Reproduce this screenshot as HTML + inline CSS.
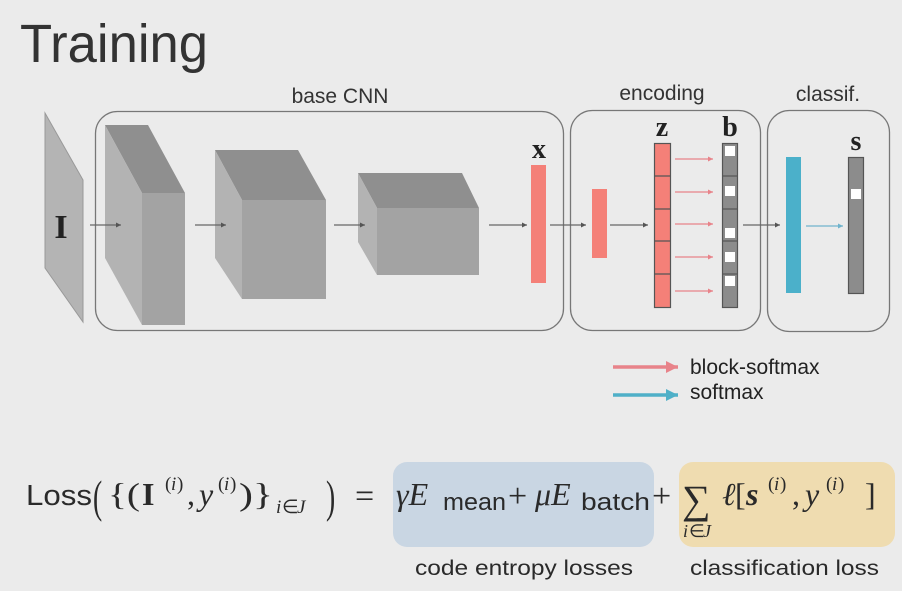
<!DOCTYPE html>
<html><head><meta charset="utf-8"><style>
html,body{margin:0;padding:0;background:#ebebeb;}
svg{display:block;}
</style></head><body>
<svg width="902" height="591" viewBox="0 0 902 591" xmlns="http://www.w3.org/2000/svg">
<defs>
<marker id="ag" markerWidth="6" markerHeight="6" refX="5" refY="3" orient="auto" markerUnits="userSpaceOnUse"><path d="M0,0.5 L5,3 L0,5.5Z" fill="#555"/></marker>
<marker id="ap" markerWidth="6" markerHeight="6" refX="5" refY="3" orient="auto" markerUnits="userSpaceOnUse"><path d="M0,0.5 L5,3 L0,5.5Z" fill="#e8838a"/></marker>
<marker id="ab" markerWidth="6" markerHeight="6" refX="5" refY="3" orient="auto" markerUnits="userSpaceOnUse"><path d="M0,0.5 L5,3 L0,5.5Z" fill="#6fb3cc"/></marker>
<marker id="lp" markerWidth="14" markerHeight="14" refX="12" refY="7" orient="auto" markerUnits="userSpaceOnUse"><path d="M0,1 L12,7 L0,13Z" fill="#e8838a"/></marker>
<marker id="lb" markerWidth="14" markerHeight="14" refX="12" refY="7" orient="auto" markerUnits="userSpaceOnUse"><path d="M0,1 L12,7 L0,13Z" fill="#4fb0c8"/></marker>
</defs>
<rect width="902" height="591" fill="#ebebeb"/>
<text x="20" y="62" font-family="Liberation Sans, sans-serif" font-size="54" fill="#333" textLength="188" lengthAdjust="spacingAndGlyphs">Training</text>

<rect x="95.5" y="111.5" width="468" height="219" rx="22" fill="none" stroke="#777" stroke-width="1.3"/>
<rect x="570.5" y="110.5" width="190" height="220" rx="22" fill="none" stroke="#777" stroke-width="1.3"/>
<rect x="767.5" y="110.5" width="122" height="221" rx="22" fill="none" stroke="#777" stroke-width="1.3"/>
<g font-family="Liberation Sans, sans-serif" font-size="21" fill="#333" text-anchor="middle">
<text x="340" y="103">base CNN</text>
<text x="662" y="100">encoding</text>
<text x="828" y="101">classif.</text>
</g>

<polygon points="45,113 83,180 83,322 45,268" fill="#b4b4b4" stroke="#999" stroke-width="1"/>
<text x="61" y="238" font-family="Liberation Serif, serif" font-weight="bold" font-size="34" fill="#222" text-anchor="middle">I</text>

<polygon points="105,125 148,125 185,193 142,193" fill="#8f8f8f"/>
<polygon points="105,125 142,193 142,325 105,258" fill="#b3b3b3"/>
<rect x="142" y="193" width="43" height="132" fill="#a3a3a3"/>
<polygon points="215,150 298,150 326,200 242,200" fill="#8f8f8f"/>
<polygon points="215,150 242,200 242,299 215,258" fill="#b3b3b3"/>
<rect x="242" y="200" width="84" height="99" fill="#a3a3a3"/>
<polygon points="358,173 462,173 479,208 377,208" fill="#8f8f8f"/>
<polygon points="358,173 377,208 377,275 358,242" fill="#b3b3b3"/>
<rect x="377" y="208" width="102" height="67" fill="#a3a3a3"/>

<g stroke="#666" stroke-width="1.2" fill="none" marker-end="url(#ag)">
<line x1="90" y1="225" x2="121" y2="225"/>
<line x1="195" y1="225" x2="226" y2="225"/>
<line x1="334" y1="225" x2="365" y2="225"/>
<line x1="489" y1="225" x2="527" y2="225"/>
<line x1="550" y1="225" x2="586" y2="225"/>
<line x1="610" y1="225" x2="648" y2="225"/>
<line x1="743" y1="225" x2="780" y2="225"/>
</g>

<rect x="531" y="165" width="15" height="118" fill="#f48078"/>
<text x="539" y="158" font-family="Liberation Serif, serif" font-weight="bold" font-size="28" fill="#222" text-anchor="middle">x</text>
<rect x="592" y="189" width="15" height="69" fill="#f48078"/>

<rect x="654.5" y="143.5" width="16" height="164" fill="#f48078" stroke="#555" stroke-width="1.2"/>
<g stroke="#555" stroke-width="1.2">
<line x1="654" y1="176" x2="671" y2="176"/><line x1="654" y1="209" x2="671" y2="209"/>
<line x1="654" y1="241" x2="671" y2="241"/><line x1="654" y1="274" x2="671" y2="274"/>
</g>
<text x="662" y="136" font-family="Liberation Serif, serif" font-weight="bold" font-size="28" fill="#222" text-anchor="middle">z</text>
<rect x="722.5" y="143.5" width="15" height="164" fill="#8c8c8c" stroke="#555" stroke-width="1.2"/>
<g stroke="#555" stroke-width="1.2">
<line x1="722" y1="176" x2="738" y2="176"/><line x1="722" y1="209" x2="738" y2="209"/>
<line x1="722" y1="241" x2="738" y2="241"/><line x1="722" y1="274" x2="738" y2="274"/>
</g>
<g fill="#fff">
<rect x="725" y="146" width="10" height="10"/><rect x="725" y="186" width="10" height="10"/>
<rect x="725" y="228" width="10" height="10"/><rect x="725" y="252" width="10" height="10"/>
<rect x="725" y="276" width="10" height="10"/>
</g>
<text x="730" y="136" font-family="Liberation Serif, serif" font-weight="bold" font-size="28" fill="#222" text-anchor="middle">b</text>
<g stroke="#e8838a" stroke-width="1.2" marker-end="url(#ap)">
<line x1="675" y1="159" x2="713" y2="159"/><line x1="675" y1="192" x2="713" y2="192"/>
<line x1="675" y1="224" x2="713" y2="224"/><line x1="675" y1="257" x2="713" y2="257"/>
<line x1="675" y1="291" x2="713" y2="291"/>
</g>

<rect x="786" y="157" width="15" height="136" fill="#4bb0ca"/>
<line x1="806" y1="226" x2="843" y2="226" stroke="#6fb3cc" stroke-width="1.2" marker-end="url(#ab)"/>
<rect x="848.5" y="157.5" width="15" height="136" fill="#8c8c8c" stroke="#555" stroke-width="1.2"/>
<rect x="851" y="189" width="10" height="10" fill="#fff"/>
<text x="856" y="150" font-family="Liberation Serif, serif" font-weight="bold" font-size="28" fill="#222" text-anchor="middle">s</text>

<line x1="613" y1="367" x2="678" y2="367" stroke="#e8838a" stroke-width="3.5" marker-end="url(#lp)"/>
<line x1="613" y1="395" x2="678" y2="395" stroke="#4fb0c8" stroke-width="3.5" marker-end="url(#lb)"/>
<g font-family="Liberation Sans, sans-serif" font-size="21" fill="#222">
<text x="690" y="374">block-softmax</text>
<text x="690" y="399">softmax</text>
</g>

<rect x="393" y="462" width="261" height="85" rx="14" fill="#c9d6e3"/>
<rect x="679" y="462" width="216" height="85" rx="14" fill="#efdcb0"/>
<g fill="#2a2a2a">
<text x="26" y="505" font-family="Liberation Sans, sans-serif" font-size="29" textLength="66" lengthAdjust="spacingAndGlyphs">Loss</text>
<g font-family="Liberation Serif, serif">
<text x="93" y="512" font-size="46" transform="translate(93,0) scale(0.6,1) translate(-93,0)">(</text>
<text x="108" y="505" font-size="32" textLength="32" lengthAdjust="spacingAndGlyphs">{(</text>
<text x="142" y="505" font-size="32" font-weight="bold">I</text>
<text x="165" y="490" font-size="19">(</text><text x="171" y="490" font-size="19" font-style="italic">i</text><text x="177" y="490" font-size="19">)</text>
<text x="187" y="505" font-size="32">,</text><text x="199" y="505" font-size="32" font-style="italic">y</text>
<text x="218" y="490" font-size="19">(</text><text x="224" y="490" font-size="19" font-style="italic">i</text><text x="230" y="490" font-size="19">)</text>
<text x="239" y="505" font-size="32" textLength="34" lengthAdjust="spacingAndGlyphs">)}</text>
<text x="276" y="513" font-size="19" font-style="italic">i</text><text x="282" y="513" font-size="19">∈</text><text x="297" y="513" font-size="19" font-style="italic">J</text>
<text x="326" y="512" font-size="46" transform="translate(326,0) scale(0.6,1) translate(-326,0)">)</text>
<text x="355" y="507" font-size="34">=</text>
<text x="396" y="505" font-size="32" font-style="italic">γE</text>
<text x="508" y="507" font-size="34">+</text>
<text x="535" y="505" font-size="32" font-style="italic">μE</text>
<text x="652" y="507" font-size="34">+</text>
<text x="682" y="513" font-size="40">∑</text>
<text x="683" y="537" font-size="18" font-style="italic">i</text><text x="689" y="537" font-size="18">∈</text><text x="703" y="537" font-size="18" font-style="italic">J</text>
<text x="722" y="505" font-size="32" font-style="italic">ℓ</text><text x="735" y="505" font-size="32">[</text><text x="746" y="505" font-size="32" font-style="italic" font-weight="bold">s</text>
<text x="768" y="490" font-size="19">(</text><text x="774" y="490" font-size="19" font-style="italic">i</text><text x="780" y="490" font-size="19">)</text>
<text x="792" y="505" font-size="32">,</text><text x="805" y="505" font-size="32" font-style="italic">y</text>
<text x="826" y="490" font-size="19">(</text><text x="832" y="490" font-size="19" font-style="italic">i</text><text x="838" y="490" font-size="19">)</text>
<text x="865" y="505" font-size="32">]</text>
</g>
<g font-family="Liberation Sans, sans-serif">
<text x="443" y="510" font-size="24" textLength="63" lengthAdjust="spacingAndGlyphs">mean</text>
<text x="581" y="510" font-size="24" textLength="69" lengthAdjust="spacingAndGlyphs">batch</text>
<text x="415" y="575" font-size="21" textLength="218" lengthAdjust="spacingAndGlyphs">code entropy losses</text>
<text x="690" y="575" font-size="21" textLength="189" lengthAdjust="spacingAndGlyphs">classification loss</text>
</g>
</g>
</svg>
</body></html>
